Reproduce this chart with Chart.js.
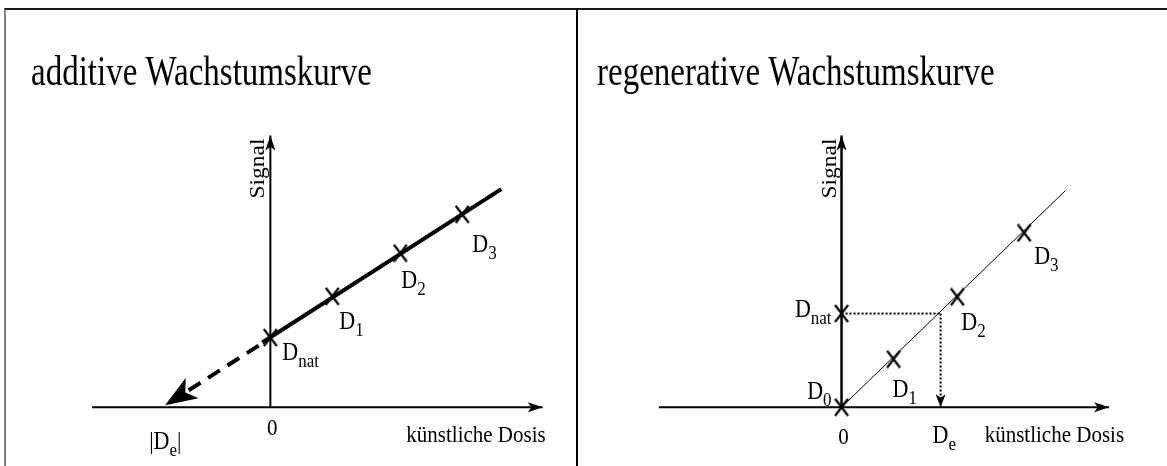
<!DOCTYPE html>
<html>
<head>
<meta charset="utf-8">
<script src="https://cdn.jsdelivr.net/npm/chart.js@4/dist/chart.umd.min.js"></script>
<style>
  body { margin: 0; background: #fff; width: 1167px; height: 466px; overflow: hidden; position: relative; }
  #rahmen { position: absolute; left: 4px; top: 8px; right: 0; bottom: -2px; border-top: 2px solid #1a1a1a; border-left: 2px solid #808080; }
  #trenner { position: absolute; left: 576px; top: 8px; width: 2px; bottom: 0; background: #000; }
  canvas { position: absolute; top: 10px; }
  #links { left: 6px; }
  #rechts { left: 578px; }
</style>
</head>
<body>
<div id="rahmen"></div>
<div id="trenner"></div>
<canvas id="links" width="570" height="456"></canvas>
<canvas id="rechts" width="589" height="456"></canvas>
<script>
// additive Wachstumskurve
var addDosis   = [0, 1, 2.1, 3.1];
var addSignal  = [1.13, 1.8, 2.5, 3.13];
var addNamen   = ["nat", "1", "2", "3"];
var addGeradeX = [-0.13, 3.73];
var addGeradeY = [1.05, 3.54];
var addExtraX  = [-0.19, -1.7];
var addExtraY  = [1.0, 0.03];
var addAchseX  = [-2.88, 4.4];
var addAchseY  = [0, 4.41];
var addDe      = -1.7;

// regenerative Wachstumskurve
var regDosis   = [0, 0, 0.84, 1.87, 2.95];
var regSignal  = [0, 1.52, 0.78, 1.79, 2.83];
var regNamen   = ["0", "nat", "1", "2", "3"];
var regGeradeX = [0, 3.62];
var regGeradeY = [0, 3.52];
var regNat     = 1.52;
var regDe      = 1.6;
var regAchseX  = [-2.95, 4.32];
var regAchseY  = [0, 4.41];

var PX = 63; // Pixel pro Einheit
var SCHRIFT = '"Liberation Serif", "Times New Roman", serif';
var GROSS = 22, KLEIN = 17;
var STRECK = 1.12; // Text in der Vorlage etwas hoeher gezogen

// Kreuz als Punktsymbol (etwas hoeher als breit)
function kreuzBild() {
    var c = document.createElement("canvas");
    c.width = 16; c.height = 19;
    var k = c.getContext("2d");
    k.strokeStyle = "#000";
    k.lineWidth = 2.2;
    k.beginPath();
    k.moveTo(1.5, 1); k.lineTo(14.5, 18);
    k.moveTo(14.5, 1); k.lineTo(1.5, 18);
    k.stroke();
    return c;
}
var KREUZ = kreuzBild();

function punkte(xs, ys) {
    return xs.map(function (x, i) { return { x: x, y: ys[i] }; });
}

// Pfeilspitze am letzten Punkt einer Linie
function pfeil(ctx, von, bis, laenge, breite) {
    var w = Math.atan2(bis.y - von.y, bis.x - von.x);
    ctx.save();
    ctx.translate(bis.x, bis.y);
    ctx.rotate(w);
    ctx.beginPath();
    ctx.moveTo(0, 0);
    ctx.lineTo(-laenge, -breite);
    ctx.lineTo(-laenge * 0.75, 0);
    ctx.lineTo(-laenge, breite);
    ctx.closePath();
    ctx.fillStyle = "#000";
    ctx.fill();
    ctx.restore();
}

function text(ctx, t, x, y, groesse, align, streck) {
    ctx.save();
    ctx.translate(x, y);
    ctx.scale(1, streck || STRECK);
    ctx.font = groesse + "px " + SCHRIFT;
    ctx.textAlign = align || "left";
    ctx.textBaseline = "alphabetic";
    ctx.fillStyle = "#000";
    ctx.fillText(t, 0, 0);
    ctx.restore();
}

function breite(ctx, t, groesse) {
    ctx.font = groesse + "px " + SCHRIFT;
    return ctx.measureText(t).width;
}

// D mit Index; align "right" = Ende des Index an x
function dIndex(ctx, sub, x, y, align) {
    var wd = breite(ctx, "D", GROSS);
    var ws = breite(ctx, sub, KLEIN);
    var x0 = align === "right" ? x - wd - ws : x;
    text(ctx, "D", x0, y, GROSS);
    text(ctx, sub, x0 + wd, y + 7, KLEIN);
}

var beschriftung = {
    id: "beschriftung",
    afterDatasetsDraw: function (chart) {
        var ctx = chart.ctx;
        var o = chart.options.plugins.beschriftung;
        var sx = chart.scales.x, sy = chart.scales.y;
        chart.data.datasets.forEach(function (ds, i) {
            if (!ds.pfeil) return;
            var pts = chart.getDatasetMeta(i).data;
            pfeil(ctx, pts[pts.length - 2], pts[pts.length - 1], ds.pfeil[0], ds.pfeil[1]);
        });
        // Punktnamen
        var ds = chart.data.datasets[o.kreuzSet];
        var pts = chart.getDatasetMeta(o.kreuzSet).data;
        ds.namen.forEach(function (n, j) {
            var v = o.versatz[j];
            dIndex(ctx, n, pts[j].x + v[0], pts[j].y + v[1], v[2]);
        });
        var x0 = sx.getPixelForValue(0), y0 = sy.getPixelForValue(0);
        text(ctx, "0", x0 + o.null[0], y0 + o.null[1], 21, "center");
        var xe = sx.getPixelForValue(o.achseX[1]);
        text(ctx, "künstliche Dosis", xe + o.dosis[0], y0 + o.dosis[1], 21, "right");
        var xd = sx.getPixelForValue(o.de);
        if (o.betrag) {
            var yb = y0 + o.deY;
            var xa = xd - 16;
            text(ctx, "|D", xa, yb, GROSS, "left");
            var w = breite(ctx, "|D", GROSS);
            text(ctx, "e", xa + w, yb + 7, KLEIN, "left");
            text(ctx, "|", xa + w + breite(ctx, "e", KLEIN), yb, GROSS, "left");
        } else {
            dIndex(ctx, "e", xd - 8, y0 + o.deY);
        }
        // Signal
        var yt = sy.getPixelForValue(o.achseY[1]);
        ctx.save();
        ctx.translate(x0 - 6, yt + 3);
        ctx.rotate(-Math.PI / 2);
        ctx.scale(1.12, 1);
        text(ctx, "Signal", 0, 0, 21, "right", 1);
        ctx.restore();
        // Ueberschrift
        text(ctx, o.titel, o.titelPos[0], o.titelPos[1], 33, "left", 1.25);
    }
};

function baueOptionen(b, h, ux, uy, extra) {
    return {
        responsive: false,
        animation: false,
        events: [],
        layout: { padding: 0 },
        scales: {
            x: { type: "linear", display: false, min: -ux / PX, max: (b - ux) / PX },
            y: { type: "linear", display: false, min: -(h - uy) / PX, max: uy / PX }
        },
        plugins: { legend: { display: false }, tooltip: { enabled: false }, beschriftung: extra }
    };
}

function linie(daten, staerke, extra) {
    var d = { type: "scatter", data: daten, showLine: true, borderColor: "#000", borderWidth: staerke,
        pointRadius: 0, borderCapStyle: "butt", fill: false, clip: false };
    for (var k in extra) d[k] = extra[k];
    return d;
}

// linkes Diagramm
new Chart(document.getElementById("links"), {
    type: "scatter",
    data: {
        datasets: [
            linie(punkte(addAchseX, [0, 0]), 2, { pfeil: [15, 5] }),
            linie(punkte([0, 0], addAchseY), 2, { pfeil: [15, 5] }),
            linie(punkte(addGeradeX, addGeradeY), 4),
            linie(punkte(addExtraX, addExtraY), 4, { borderDash: [14, 9], pfeil: [32, 12] }),
            { type: "scatter", data: punkte(addDosis, addSignal), namen: addNamen, showLine: false,
              pointStyle: KREUZ, clip: false }
        ]
    },
    options: baueOptionen(570, 456, 264, 401, {
        kreuzSet: 4,
        versatz: [[12, 22], [7, 33], [1, 35], [10, 38]],
        null: [2, 28], dosis: [3, 35], de: addDe, deY: 42, betrag: true,
        achseX: addAchseX, achseY: addAchseY,
        titel: "additive Wachstumskurve", titelPos: [25, 75]
    }),
    plugins: [beschriftung]
});

// rechtes Diagramm
new Chart(document.getElementById("rechts"), {
    type: "scatter",
    data: {
        datasets: [
            linie(punkte(regAchseX, [0, 0]), 2, { pfeil: [15, 5] }),
            linie(punkte([0, 0], regAchseY), 2.5, { pfeil: [15, 5] }),
            linie(punkte(regGeradeX, regGeradeY), 1),
            linie(punkte([0, regDe], [regNat, regNat]), 2, { borderDash: [2, 2] }),
            linie(punkte([regDe, regDe], [regNat, 0]), 2, { borderDash: [2, 2], pfeil: [13, 5] }),
            { type: "scatter", data: punkte(regDosis, regSignal), namen: regNamen, showLine: false,
              pointStyle: KREUZ, clip: false }
        ]
    },
    options: baueOptionen(589, 456, 263, 401, {
        kreuzSet: 5,
        versatz: [[-10, -8, "right"], [-10, 3, "right"], [-1, 38], [4, 33], [10, 31]],
        null: [2, 37], dosis: [15, 35], de: regDe, deY: 36, betrag: false,
        achseX: regAchseX, achseY: regAchseY,
        titel: "regenerative Wachstumskurve", titelPos: [19, 75]
    }),
    plugins: [beschriftung]
});
</script>
</body>
</html>
